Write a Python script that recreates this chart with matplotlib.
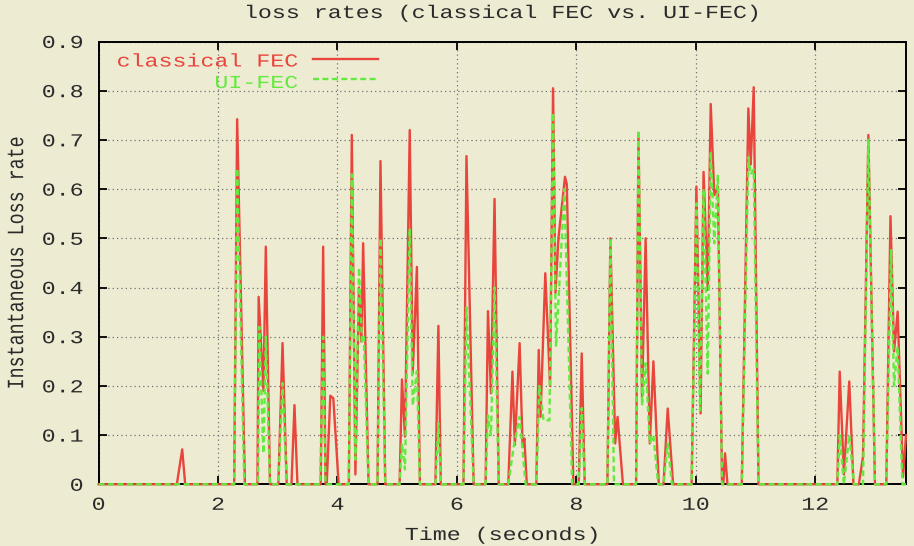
import matplotlib
matplotlib.use("Agg")
import matplotlib.pyplot as plt
from matplotlib.ticker import FixedLocator, FixedFormatter
from matplotlib.patheffects import AbstractPathEffect
from matplotlib.transforms import Affine2D

# ---------------- data ----------------
title = "loss rates (classical FEC vs. UI-FEC)"
xlabel = "Time (seconds)"
ylabel = "Instantaneous Loss rate"
series_names = ["classical FEC", "UI-FEC"]

classical_t = [0, 1.31, 1.40, 1.45, 2.27, 2.32, 2.45, 2.66, 2.68, 2.76, 2.80, 2.87,
               3.01, 3.08, 3.15, 3.23, 3.28, 3.33, 3.72, 3.76, 3.80, 3.82, 3.88, 3.93, 4.02,
               4.19, 4.24, 4.30, 4.36, 4.40, 4.43, 4.52,
               4.67, 4.72, 4.80,
               5.04, 5.08, 5.13, 5.21, 5.26, 5.33, 5.38,
               5.64, 5.69, 5.73,
               6.11, 6.16, 6.28,
               6.48, 6.52, 6.57, 6.63, 6.70,
               6.86, 6.93, 6.97, 7.05, 7.10, 7.13, 7.17,
               7.33, 7.37, 7.40, 7.48, 7.56, 7.61, 7.65, 7.70, 7.81, 7.84, 7.95,
               8.04, 8.09, 8.14,
               8.52, 8.57, 8.65, 8.69, 8.78,
               9.00, 9.04, 9.10, 9.16, 9.23, 9.29, 9.38,
               9.46, 9.53, 9.62,
               9.93, 10.01, 10.08, 10.13, 10.20, 10.25, 10.31, 10.37, 10.44,
               10.46, 10.49, 10.53,
               10.77, 10.88, 10.92, 10.97, 11.05,
               12.37, 12.41, 12.48, 12.57, 12.64,
               12.73, 12.80, 12.89, 13.00,
               13.19, 13.26, 13.32, 13.38, 13.47, 13.52]
classical_v = [0, 0, 0.071, 0, 0, 0.742, 0, 0, 0.381, 0.19, 0.483, 0,
               0, 0.287, 0, 0, 0.161, 0, 0, 0.483, 0, 0, 0.18, 0.175, 0,
               0, 0.71, 0.02, 0.40, 0.29, 0.49, 0,
               0, 0.657, 0,
               0, 0.213, 0.097, 0.72, 0.226, 0.442, 0,
               0, 0.322, 0,
               0, 0.667, 0,
               0, 0.352, 0.185, 0.58, 0,
               0, 0.229, 0.08, 0.287, 0.076, 0.093, 0,
               0, 0.273, 0.137, 0.429, 0.2, 0.805, 0.389, 0.5, 0.625, 0.61, 0,
               0, 0.266, 0,
               0, 0.5, 0.083, 0.137, 0,
               0, 0.71, 0.178, 0.5, 0.083, 0.25, 0,
               0, 0.154, 0,
               0, 0.605, 0.144, 0.635, 0.395, 0.773, 0.588, 0.605, 0,
               0, 0.063, 0,
               0, 0.764, 0.65, 0.807, 0,
               0, 0.229, 0.02, 0.209, 0,
               0, 0.056, 0.71, 0,
               0, 0.545, 0.27, 0.351, 0.015, 0.1]

uifec_t = [0, 2.27, 2.32, 2.44,
           2.67, 2.69, 2.76, 2.80, 2.87,
           3.01, 3.08, 3.15,
           3.71, 3.76, 3.80,
           4.19, 4.24, 4.30, 4.36, 4.41, 4.44, 4.52,
           4.67, 4.72, 4.80,
           5.04, 5.08, 5.13, 5.21, 5.26, 5.33, 5.38,
           5.64, 5.69, 5.73,
           6.11, 6.16, 6.28,
           6.48, 6.52, 6.57, 6.63, 6.70,
           6.86, 6.95, 7.05, 7.15,
           7.33, 7.38, 7.45, 7.55, 7.61, 7.66, 7.80, 7.93,
           8.04, 8.09, 8.14,
           8.52, 8.57, 8.63,
           9.00, 9.04, 9.10, 9.16, 9.23, 9.29, 9.37,
           9.46, 9.53, 9.60,
           9.93, 10.01, 10.07, 10.13, 10.20, 10.25, 10.31, 10.37, 10.44,
           10.77, 10.88, 10.92, 10.97, 11.05,
           12.37, 12.41, 12.48, 12.57, 12.65,
           12.80, 12.89, 13.00,
           13.19, 13.27, 13.32, 13.38, 13.46, 13.52]
uifec_v = [0, 0, 0.642, 0,
           0, 0.32, 0.063, 0.30, 0,
           0, 0.206, 0,
           0, 0.30, 0,
           0, 0.63, 0.05, 0.44, 0.29, 0.30, 0,
           0, 0.50, 0,
           0, 0.083, 0.03, 0.52, 0.16, 0.23, 0,
           0, 0.124, 0,
           0, 0.36, 0,
           0, 0.14, 0.10, 0.40, 0,
           0, 0.076, 0.137, 0,
           0, 0.20, 0.13, 0.13, 0.755, 0.28, 0.60, 0,
           0, 0.155, 0,
           0, 0.50, 0,
           0, 0.72, 0.16, 0.246, 0.083, 0.10, 0,
           0, 0.083, 0,
           0, 0.571, 0.15, 0.60, 0.225, 0.676, 0.49, 0.629, 0,
           0, 0.665, 0.63, 0.64, 0,
           0, 0.10, 0.0, 0.10, 0,
           0, 0.70, 0,
           0, 0.476, 0.20, 0.28, 0, 0]

xticks = [0, 2, 4, 6, 8, 10, 12]
xtick_labels = ["0", "2", "4", "6", "8", "10", "12"]
yticks = [0, 0.1, 0.2, 0.3, 0.4, 0.5, 0.6, 0.7, 0.8, 0.9]
ytick_labels = ["0", "0.1", "0.2", "0.3", "0.4", "0.5", "0.6", "0.7", "0.8", "0.9"]

# ---------------- style ----------------
FONT = ["Liberation Mono", "DejaVu Sans Mono"]
FS = 13.2
SX = 1.27          # the reference's text is horizontally stretched
BG = "#EEEBD3"
RED = "#E8453C"
GREEN = "#62EA3E"
TXT = "#2a2a2a"

plt.rcParams["font.family"] = FONT


class HStretch(AbstractPathEffect):
    """Draw text glyphs stretched horizontally (display space) about an anchor."""

    def __init__(self, sx=SX, frac=0.5):
        super().__init__()
        self.sx = sx
        self.frac = frac

    def draw_path(self, renderer, gc, tpath, affine, rgbFace=None):
        ext = tpath.get_extents()
        axp = ext.x0 + self.frac * ext.width
        ayp = 0.5 * (ext.y0 + ext.y1)
        px, py = affine.transform((axp, ayp))
        st = Affine2D().translate(-px, -py).scale(self.sx, 1.0).translate(px, py)
        renderer.draw_path(gc, tpath, affine + st, rgbFace)


def stretch(t, frac):
    t.set_path_effects([HStretch(SX, frac)])


W, H = 914, 546
fig = plt.figure(figsize=(W / 100, H / 100), dpi=100, facecolor=BG)
x0, x1 = 98.6, 906.0
y0, y1 = 484.3, 41.5
ax = fig.add_axes([x0 / W, 1 - y0 / H, (x1 - x0) / W, (y0 - y1) / H], facecolor=BG)

ax.plot(classical_t, classical_v, color=RED, lw=1.7, zorder=6, clip_on=False)
ax.plot(uifec_t, uifec_v, color=GREEN, lw=1.7, linestyle=(0, (2.5, 1.5)),
        zorder=7, clip_on=False)

ax.set_xlim(0, 13.52)
ax.set_ylim(0, 0.9)
ax.xaxis.set_major_locator(FixedLocator(xticks))
ax.xaxis.set_major_formatter(FixedFormatter(xtick_labels))
ax.yaxis.set_major_locator(FixedLocator(yticks))
ax.yaxis.set_major_formatter(FixedFormatter(ytick_labels))

ax.tick_params(direction="in", length=6, width=1.3, top=True, right=True,
               labelsize=FS, colors="black", labelcolor=TXT)
ax.tick_params(axis="x", pad=9)
ax.tick_params(axis="y", pad=11)

ax.grid(True, color="#707070", linestyle=(0, (1, 2.5)), linewidth=0.9)
ax.set_axisbelow(True)
for s in ax.spines.values():
    s.set_linewidth(1.4)
    s.set_color("black")
    s.set_zorder(5)

for tk in ax.xaxis.get_major_ticks():
    stretch(tk.label1, 0.5)
for tk in ax.yaxis.get_major_ticks():
    stretch(tk.label1, 1.0)

# legend (gnuplot style: right-aligned text then sample line)
def ay(py):
    return (y0 - py) / (y0 - y1)

legend_rows = [(66.5, 58.5, RED, "-"), (88, 79, GREEN, (0, (2.5, 1.5)))]
for name, (tyy, lyy, col, ls) in zip(series_names, legend_rows):
    t = ax.text((298 - x0) / (x1 - x0), ay(tyy), name, transform=ax.transAxes,
                ha="right", va="baseline", fontsize=FS, color=col, zorder=8)
    stretch(t, 1.0)
    ax.plot([(313 - x0) / (x1 - x0), (378 - x0) / (x1 - x0)], [ay(lyy), ay(lyy)],
            transform=ax.transAxes, color=col, lw=1.7, linestyle=ls, zorder=8)

cx = (x0 + x1) / 2 / W
t = fig.text(cx, 1 - 18 / H, title, ha="center", va="baseline", fontsize=FS, color=TXT)
stretch(t, 0.5)
t = fig.text(cx, 1 - 540 / H, xlabel, ha="center", va="baseline", fontsize=FS, color=TXT)
stretch(t, 0.5)
t = fig.text(17 / W, 1 - ((y0 + y1) / 2) / H, ylabel, ha="center", va="center",
             rotation=90, fontsize=FS, color=TXT)
stretch(t, 0.5)

fig.savefig("out.png", dpi=100, facecolor=BG)
